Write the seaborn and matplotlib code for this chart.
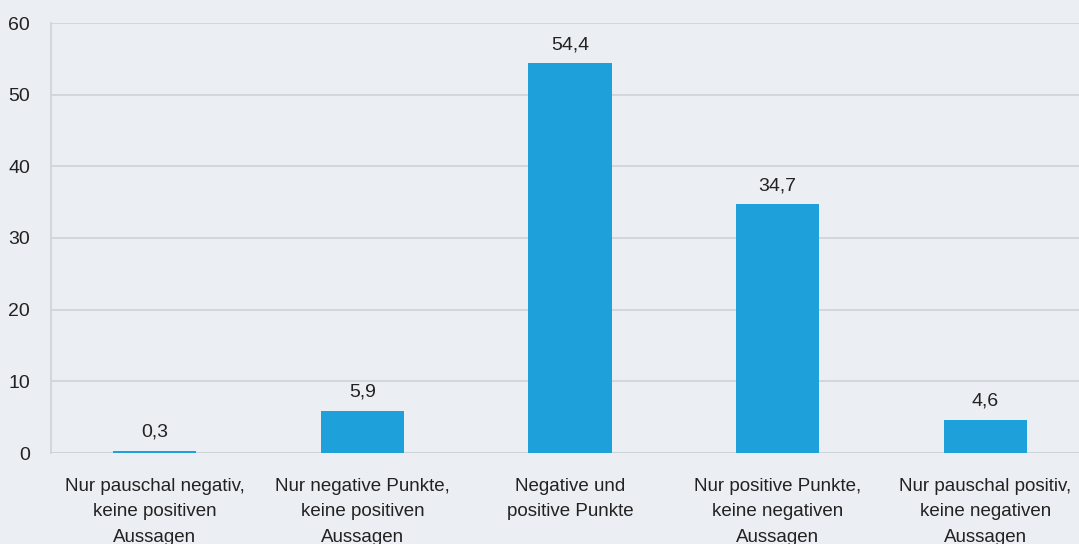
import numpy as np
import pandas as pd
import matplotlib.pyplot as plt
import seaborn as sb
from matplotlib.ticker import FixedLocator

kategorien = ["Nur pauschal negativ,\nkeine positiven\nAussagen",
              "Nur negative Punkte,\nkeine positiven\nAussagen",
              "Negative und\npositive Punkte",
              "Nur positive Punkte,\nkeine negativen\nAussagen",
              "Nur pauschal positiv,\nkeine negativen\nAussagen"]
werte = [0.3, 5.9, 54.4, 34.7, 4.6]
y_ticks = [0, 10, 20, 30, 40, 50, 60]

bg = "#EBEEF2"
grid = "#CED3D9"
blau = "#1EA1DB"
text = "#222222"

sb.set_theme(style="white")
plt.rcParams['font.family'] = ['Liberation Sans', 'DejaVu Sans']

df = pd.DataFrame({"kat": kategorien, "wert": werte})

fig = plt.figure(figsize=(10.79, 5.44), dpi=100, facecolor=bg)
ax = fig.add_axes([51 / 1079, 1 - 453 / 544, 1038 / 1079, 430 / 544])
ax.set_facecolor(bg)

sb.barplot(data=df, x="kat", y="wert", color=blau, width=0.4, saturation=1,
           linewidth=0, ax=ax, zorder=3)

for i, v in enumerate(werte):
    ax.text(i, v + 1.4, f"{v:.1f}".replace(".", ","), ha="center", va="bottom",
            fontsize=14, color=text)

ax.set_xlim(-0.5, 4.5)
ax.set_ylim(0, 60)
ax.set_yticks(y_ticks)
ax.yaxis.grid(True, color=grid, linewidth=1.2, zorder=0)
ax.set_axisbelow(True)
ax.tick_params(axis="y", length=11, color=grid, width=1.2, labelsize=14, labelcolor=text, pad=4)
ax.tick_params(axis="x", which="major", length=0, labelsize=13.5, labelcolor=text, pad=18)
ax.xaxis.set_minor_locator(FixedLocator(np.arange(-0.5, 5, 1)))
ax.tick_params(axis="x", which="minor", length=12, color=grid, width=1.2)
ax.set_xlabel("")
ax.set_ylabel("")

for s in ["top", "right", "bottom"]:
    ax.spines[s].set_visible(False)
ax.spines["left"].set_color(grid)
ax.spines["left"].set_linewidth(1.2)
ax.axhline(0, color=grid, linewidth=1.2, zorder=2)

for lbl in ax.get_xticklabels():
    lbl.set_linespacing(1.65)

plt.savefig("out.png", dpi=100, facecolor=bg)
